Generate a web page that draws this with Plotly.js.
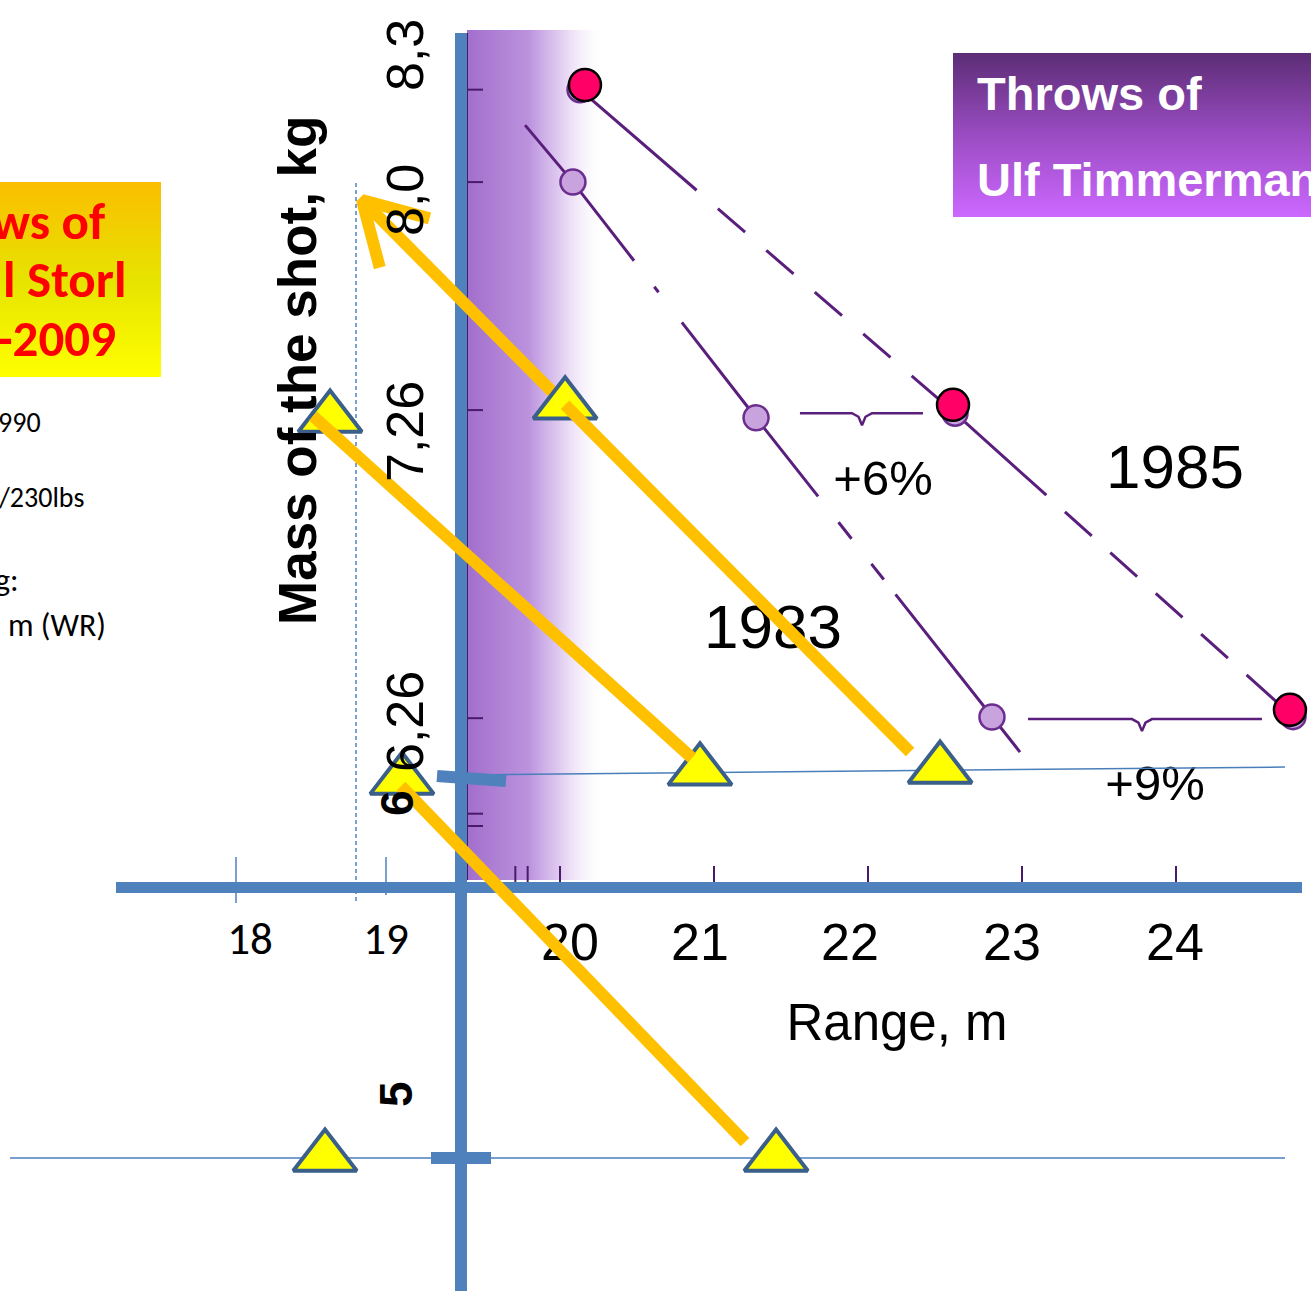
<!DOCTYPE html>
<html><head><meta charset="utf-8">
<script src="https://cdn.plot.ly/plotly-3.0.1.min.js"></script>
<style>html,body{margin:0;padding:0;background:#fff;}#chart{width:1311px;height:1291px;}</style>
</head><body><div id="chart"></div>
<script>
// ---------- DATA (range in m, mass of the shot in kg) ----------
const massTickText = ['8,3', '8,0', '7,26', '6,26'];
const rangeTickText = ['18', '19', '20', '21', '22', '23', '24'];
const rangeTickVals = [18, 19, 20, 21, 22, 23, 24];

// scanned chart, 1985 series (open circles under the red marks)
const s1985Range = [20.13, 22.565, 24.76];
const s1985Mass = [8.30, 7.25, 6.265];
// scanned chart, 1983 series
const s1983Range = [20.084, 21.273, 22.805];
const s1983Mass = [8.00, 7.235, 6.264];
// full extent of the drawn 1983 curve
const c1983Range = [19.773, 20.084, 21.273, 22.805, 22.987];
const c1983Mass = [8.185, 8.00, 7.235, 6.264, 6.150];

// overlay: Timmermann (red dots)
const timmRange = [20.162, 22.552, 24.740];
const timmMass = [8.315, 7.277, 6.287];

// overlay: Storl (yellow triangles)
const storlRange = [20.033, 18.507, 20.909, 22.468, 18.974, 18.474, 21.403];
const storlMass = [7.277, 7.234, 6.089, 6.095, 6.059, 4.836, 4.836];

// orange connectors
const arrowRange = [18.714, 20.033];
const arrowMass = [7.942, 7.277];
const linkARange = [20.033, 22.273];
const linkAMass = [7.277, 6.150];
const linkBRange = [18.396, 20.857];
const linkBMass = [7.241, 6.131];
const linkCRange = [18.968, 21.201];
const linkCMass = [6.040, 4.884];

// gains between years
const gainText = ['+6%', '+9%'];
const gainLeft = [21.558, 23.039];
const gainRight = [22.357, 24.558];
const gainTip = [21.961, 23.779];
const gainMass = [7.250, 6.257];
const yearText = ['1983', '1985'];

// ---------- layout helpers ----------
const W = 1311, H = 1291;
const XR = [16.3636, 24.8766], YR = [4.4008, 8.5910];
const PXM = W / (XR[1] - XR[0]);   // px per metre
const PXK = H / (YR[1] - YR[0]);   // px per kg
const pxX = px => XR[0] + px / PXM;
const pxY = py => YR[1] - py / PXK;
const P = (px, py) => ({x: px / W, y: 1 - py / H, xref: 'paper', yref: 'paper'});

const purpleDark = '#5a1f7c';
const blue = '#4F81BD';
const orange = '#FFC000';
const ARIAL = 'Liberation Sans, Arial, sans-serif';
const CALI = 'Carlito, Lato, sans-serif';

const traces = [];
const line = (x, y, color, width, dash) => ({type: 'scatter', mode: 'lines', x, y,
  line: {color, width, dash: dash || 'solid'}, hoverinfo: 'skip'});

// purple scanned band
traces.push({type: 'scatter', mode: 'none', fill: 'toself', hoverinfo: 'skip',
  x: [pxX(467), pxX(605), pxX(605), pxX(467)], y: [pxY(30), pxY(30), pxY(880), pxY(880)],
  fillgradient: {type: 'horizontal', colorscale: [
    [0, 'rgba(145,85,195,0.85)'], [0.45, 'rgba(165,110,210,0.75)'],
    [0.65, 'rgba(185,140,222,0.5)'], [0.85, 'rgba(215,185,235,0.18)'], [1, 'rgba(255,255,255,0)']]}});

// scanned axes and ticks
(function () {
  const ax = [pxX(467), pxX(467)], ay = [pxY(33), pxY(880)];
  traces.push(line(ax, ay, '#4a1a6a', 2));
  const tx = [], ty = [];
  [8.3, 8.0, 7.26, 6.26, 5.95, 5.91].forEach(m => { tx.push(pxX(467), pxX(483), null); ty.push(m, m, null); });
  [19.71, 19.79, 20, 21, 22, 23, 24].forEach(r => { tx.push(r, r, null); ty.push(pxY(866), pxY(882), null); });
  traces.push(line(tx, ty, '#4a1a6a', 2));
})();

// scanned curves
traces.push(line(c1983Range, c1983Mass, purpleDark, 3,
  '174px,33px,7px,38px,221px,33px,21px,32px,20px,19px,600px'));
traces.push(line(s1985Range, s1985Mass, purpleDark, 3,
  '154px,28px,36px,28px,36px,28px,36px,28px,36px,28px,180px,25px,36px,25px,36px,25px,36px,25px,36px,25px,400px'));

// braces
(function () {
  const bx = [], by = [];
  for (let i = 0; i < gainLeft.length; i++) {
    const t = gainTip[i], m = gainMass[i], d = 12 / PXK, w = 10 / PXM;
    bx.push(gainLeft[i], t - w, t - w * 0.35, t, t + w * 0.35, t + w, gainRight[i], null);
    by.push(m, m, m - d * 0.3, m - d, m - d * 0.3, m, m, null);
  }
  traces.push(line(bx, by, purpleDark, 2.5));
})();

// scanned circles
traces.push({type: 'scatter', mode: 'markers', x: s1985Range.concat(s1983Range), y: s1985Mass.concat(s1983Mass),
  marker: {size: 25, color: '#c9a3de', line: {color: '#6b2e8f', width: 2.5}}, hoverinfo: 'skip'});

// scanned texts
traces.push({type: 'scatter', mode: 'text', x: [pxX(773), pxX(1175)], y: [pxY(632), pxY(472)], text: yearText,
  textposition: 'middle center', textfont: {family: ARIAL, size: 62, color: '#000'}, hoverinfo: 'skip'});
traces.push({type: 'scatter', mode: 'text', x: [pxX(883), pxX(1155)], y: [pxY(483), pxY(788)], text: gainText,
  textposition: 'middle center', textfont: {family: ARIAL, size: 49, color: '#000'}, hoverinfo: 'skip'});

// overlay axes (blue)
traces.push(line([pxX(465), pxX(1285)], [pxY(775), pxY(767)], '#4a7ebb', 1.5));
traces.push(line([pxX(10), pxX(1285)], [pxY(1158), pxY(1158)], '#4a7ebb', 1.5));
traces.push(line([pxX(356), pxX(356)], [pxY(183), pxY(903)], blue, 1.5, '4px,3px'));
traces.push(line([pxX(236), pxX(236), null, pxX(386), pxX(386)], [pxY(857), pxY(903), null, pxY(857), pxY(895)], blue, 1.5));
traces.push(line([pxX(461), pxX(461)], [pxY(33), pxY(1300)], blue, 12));
traces.push(line([pxX(116), pxX(1302)], [pxY(887.5), pxY(887.5)], blue, 11));
traces.push(line([pxX(437), pxX(506), null, pxX(431), pxX(491)], [pxY(776), pxY(781), null, pxY(1158), pxY(1158)], blue, 12));

// tick labels
const tickLabelPx = [250, 386, 570, 700, 850, 1012, 1175];
traces.push({type: 'scatter', mode: 'text', x: tickLabelPx.slice(0, 2).map(pxX), y: [pxY(943), pxY(943)],
  text: rangeTickText.slice(0, 2), textposition: 'middle center',
  textfont: {family: CALI, size: 45, color: '#000'}, hoverinfo: 'skip'});
traces.push({type: 'scatter', mode: 'text', x: tickLabelPx.slice(2).map(pxX), y: tickLabelPx.slice(2).map(() => pxY(947)),
  text: rangeTickText.slice(2), textposition: 'middle center',
  textfont: {family: ARIAL, size: 52, color: '#000'}, hoverinfo: 'skip'});
traces.push({type: 'scatter', mode: 'text', x: [pxX(897)], y: [pxY(1027)], text: ['Range, m'],
  textposition: 'middle center', textfont: {family: ARIAL, size: 51, color: '#000'}, hoverinfo: 'skip'});

// red dots
traces.push({type: 'scatter', mode: 'markers', x: timmRange, y: timmMass,
  marker: {size: 32, color: '#FF0066', line: {color: '#000', width: 2.5}}, hoverinfo: 'skip'});

// title boxes
traces.push({type: 'scatter', mode: 'none', fill: 'toself', hoverinfo: 'skip',
  x: [pxX(953), pxX(1330), pxX(1330), pxX(953)], y: [pxY(53), pxY(53), pxY(217), pxY(217)],
  fillgradient: {type: 'vertical', colorscale: [[0, '#CC68FF'], [0.5, '#9a4cc2'], [1, '#5c2d75']]}});
traces.push({type: 'scatter', mode: 'none', fill: 'toself', hoverinfo: 'skip',
  x: [pxX(-20), pxX(161), pxX(161), pxX(-20)], y: [pxY(182), pxY(182), pxY(377), pxY(377)],
  fillgradient: {type: 'vertical', colorscale: [[0, '#FFFF00'], [0.5, '#E6E300'], [1, '#FBBE00']]}});

// orange arrow (below triangles)
(function () {
  const tipX = arrowRange[0], tipY = arrowMass[0];
  const dx = (arrowRange[1] - tipX) * PXM, dy = -(arrowMass[1] - tipY) * PXK;
  const th = Math.atan2(dy, dx), L = 70, phi = Math.PI / 6;
  const b = s => [tipX + L * Math.cos(th + s * phi) / PXM, tipY - L * Math.sin(th + s * phi) / PXK];
  const b1 = b(1), b2 = b(-1);
  traces.push(line([b1[0], tipX, b2[0], null, tipX, arrowRange[1]], [b1[1], tipY, b2[1], null, tipY, arrowMass[1]], orange, 12));
})();

// triangles
traces.push({type: 'scatter', mode: 'markers', x: storlRange, y: storlMass,
  marker: {symbol: 'triangle-up', size: 55, color: '#FFFF00', line: {color: '#3a5f8b', width: 4}}, hoverinfo: 'skip'});

// orange links
traces.push(line(linkARange, linkAMass, orange, 12));
traces.push(line(linkBRange, linkBMass, orange, 12));
traces.push(line(linkCRange, linkCMass, orange, 12));

// ---------- annotations ----------
const ann = [];
const A = (px, py, text, font, extra) => ann.push(Object.assign(P(px, py), {text, font, showarrow: false,
  xanchor: 'center', yanchor: 'middle'}, extra || {}));
const rot = {textangle: -90};
A(405, 55, massTickText[0], {family: ARIAL, size: 52, color: '#000'}, rot);
A(405, 200, massTickText[1], {family: ARIAL, size: 52, color: '#000'}, rot);
A(405, 432, massTickText[2], {family: ARIAL, size: 52, color: '#000'}, rot);
A(405, 722, massTickText[3], {family: ARIAL, size: 52, color: '#000'}, rot);
A(397, 803, '<b>6</b>', {family: ARIAL, size: 46, color: '#000'}, rot);
A(396, 1094, '<b>5</b>', {family: ARIAL, size: 46, color: '#000'}, rot);
A(297, 371, '<b>Mass of the shot, kg</b>', {family: ARIAL, size: 53, color: '#000'}, rot);
A(975, 93, '<b>Throws of</b>', {family: ARIAL, size: 47, color: '#fff'}, {xanchor: 'left'});
A(975, 180, '<b>Ulf Timmerman</b>', {family: ARIAL, size: 47, color: '#fff'}, {xanchor: 'left'});
A(107, 222, '<b>ws of</b>', {family: CALI, size: 51, color: '#FF0000'}, {xanchor: 'right'});
A(128, 279, '<b>l Storl</b>', {family: CALI, size: 51, color: '#FF0000'}, {xanchor: 'right'});
A(118, 338, '<b>-2009</b>', {family: CALI, size: 51, color: '#FF0000'}, {xanchor: 'right'});
A(43, 422, '990', {family: CALI, size: 28, color: '#000'}, {xanchor: 'right'});
A(86, 498, '/230lbs', {family: CALI, size: 28, color: '#000'}, {xanchor: 'right'});
A(21, 580, 'g:', {family: CALI, size: 32, color: '#000'}, {xanchor: 'right'});
A(108, 625, 'm (WR)', {family: CALI, size: 32, color: '#000'}, {xanchor: 'right'});

const layout = {
  width: W, height: H, margin: {l: 0, r: 0, t: 0, b: 0, pad: 0},
  paper_bgcolor: '#fff', plot_bgcolor: '#fff', showlegend: false,
  xaxis: {range: XR, visible: false, fixedrange: true},
  yaxis: {range: YR, visible: false, fixedrange: true},
  annotations: ann
};
Plotly.newPlot('chart', traces, layout, {staticPlot: true, displayModeBar: false});
</script></body></html>
